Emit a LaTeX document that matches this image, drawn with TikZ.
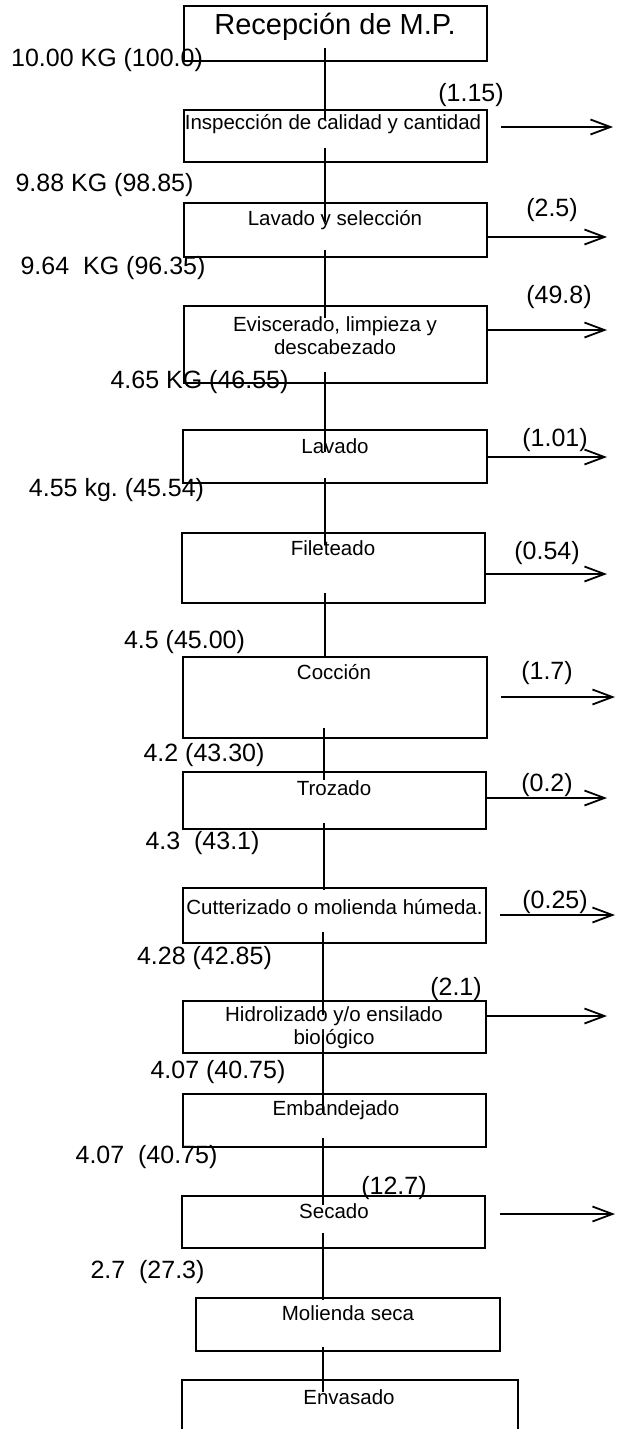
\documentclass[tikz,border=0pt]{standalone}
\usepackage{fontspec}
\setmainfont{Liberation Sans}
\usetikzlibrary{arrows.meta}
\frenchspacing
\tikzset{
  box/.style={draw, line width=1.8pt, inner sep=0pt, outer sep=0pt},
  boxtext/.style={font=\fontsize{20.5}{23}\selectfont, align=center, inner sep=0pt},
  titletext/.style={font=\fontsize{29}{32}\selectfont, inner sep=0pt},
  qty/.style={font=\fontsize{25}{28}\selectfont, inner sep=0pt},
  flow/.style={line width=1.5pt},
  waste/.style={line width=2.2pt, -{Straight Barb[length=20pt, width=15pt, line width=1.8pt]}}
}
\begin{document}
\begin{tikzpicture}[x=1pt,y=-1pt]
\useasboundingbox (0,0) rectangle (616,1429);
% boxes
\node[box, minimum width=303pt, minimum height=55pt] (b1) at (335.5,33.5) {};
\node[box, minimum width=303pt, minimum height=52pt] (b2) at (335.5,136) {};
\node[box, minimum width=303pt, minimum height=54pt] (b3) at (335.5,230) {};
\node[box, minimum width=303pt, minimum height=77pt] (b4) at (335.5,344.5) {};
\node[box, minimum width=304pt, minimum height=53pt] (b5) at (335,456.5) {};
\node[box, minimum width=303pt, minimum height=70pt] (b6) at (333.5,568) {};
\node[box, minimum width=304pt, minimum height=81pt] (b7) at (335,697.5) {};
\node[box, minimum width=303pt, minimum height=57pt] (b8) at (334.5,800.5) {};
\node[box, minimum width=303pt, minimum height=55pt] (b9) at (334.5,915.5) {};
\node[box, minimum width=303pt, minimum height=52pt] (b10) at (334.5,1027) {};
\node[box, minimum width=303pt, minimum height=53pt] (b11) at (334.5,1120.5) {};
\node[box, minimum width=303pt, minimum height=52pt] (b12) at (333.5,1222) {};
\node[box, minimum width=304pt, minimum height=53pt] (b13) at (348,1324.5) {};
\node[box, minimum width=336pt, minimum height=70pt] (b14) at (350,1415) {};
% box texts
\node[titletext] (t1) at (335,27) {Recepción de M.P.};
\node[boxtext] (t2) at (333,124) {Inspección de calidad y cantidad};
\node[boxtext] (t3) at (335,220) {Lavado y selección};
\node[boxtext] (t4) at (335,336) {Eviscerado, limpieza y\\descabezado};
\node[boxtext] (t5) at (335,446) {Lavado};
\node[boxtext] (t6) at (333,548) {Fileteado};
\node[boxtext] (t7) at (334,672) {Cocción};
\node[boxtext] (t8) at (334,788) {Trozado};
\node[boxtext] (t9) at (334.5,907) {Cutterizado o molienda húmeda.};
\node[boxtext] (t10) at (334,1028) {Hidrolizado y/o ensilado\\biológico};
\node[boxtext] (t11) at (336,1110) {Embandejado};
\node[boxtext] (t12) at (334,1211) {Secado};
\node[boxtext] (t13) at (348,1313) {Molienda seca};
\node[boxtext] (t14) at (349,1397) {Envasado};
% left quantities
\node[qty] (q1) at (107,60) {10.00 KG (100.0)};
\node[qty] (q2) at (104.5,185) {9.88 KG (98.85)};
\node[qty] (q3) at (113,268) {9.64\ \ KG (96.35)};
\node[qty] (q4) at (199.5,382) {4.65 KG (46.55)};
\node[qty] (q5) at (116.5,490) {4.55 kg. (45.54)};
\node[qty] (q6) at (184.5,642) {4.5 (45.00)};
\node[qty] (q7) at (204,755) {4.2 (43.30)};
\node[qty] (q8) at (202.5,843) {4.3\ \ (43.1)};
\node[qty] (q9) at (204.5,958) {4.28 (42.85)};
\node[qty] (q10) at (218,1072) {4.07 (40.75)};
\node[qty] (q11) at (146.5,1157) {4.07\ \ (40.75)};
\node[qty] (q12) at (147.5,1272) {2.7\ \ (27.3)};
% right losses
\node[qty] (r2) at (471,95) {(1.15)};
\node[qty] (r3) at (552,210) {(2.5)};
\node[qty] (r4) at (559,297) {(49.8)};
\node[qty] (r5) at (555,440) {(1.01)};
\node[qty] (r6) at (547,553) {(0.54)};
\node[qty] (r7) at (547,673) {(1.7)};
\node[qty] (r8) at (547,785) {(0.2)};
\node[qty] (r9) at (555,902) {(0.25)};
\node[qty] (r10) at (456,989) {(2.1)};
\node[qty] (r12) at (394,1188) {(12.7)};
% vertical flow line end points
\coordinate (s1) at (325,48);   \coordinate (e1) at (325,120);
\coordinate (s2) at (325,148);  \coordinate (e2) at (325,222);
\coordinate (s3) at (325,250);  \coordinate (e3) at (325,318);
\coordinate (s4) at (325,372);  \coordinate (e4) at (325,452);
\coordinate (s5) at (325,478);  \coordinate (e5) at (325,545);
\coordinate (s6) at (325,593);  \coordinate (e6) at (325,658);
\coordinate (s7) at (324,728);  \coordinate (e7) at (324,780);
\coordinate (s8) at (324,823);  \coordinate (e8) at (324,890);
\coordinate (s9) at (323,932);  \coordinate (e9) at (323,1015);
\coordinate (s10) at (323,1035); \coordinate (e10) at (323,1113);
\coordinate (s11) at (323,1138); \coordinate (e11) at (323,1205);
\coordinate (s12) at (323,1233); \coordinate (e12) at (323,1300);
\coordinate (s13) at (323,1347); \coordinate (e13) at (323,1392);
\foreach \i in {1,...,13} { \draw[flow] (s\i) -- (e\i); }
% waste arrows
\coordinate (w2) at (613,127);
\coordinate (w3) at (607,237);
\coordinate (w4) at (607,330);
\coordinate (w5) at (607,457);
\coordinate (w6) at (607,574);
\coordinate (w7) at (615,697);
\coordinate (w8) at (607,798);
\coordinate (w9) at (615,915);
\coordinate (w10) at (607,1016);
\coordinate (w12) at (615,1214);
\draw[waste] ([xshift=14pt]b2.east |- w2) -- (w2);
\draw[waste] (b3.east |- w3) -- (w3);
\draw[waste] (b4.east |- w4) -- (w4);
\draw[waste] (b5.east |- w5) -- (w5);
\draw[waste] (b6.east |- w6) -- (w6);
\draw[waste] ([xshift=14pt]b7.east |- w7) -- (w7);
\draw[waste] (b8.east |- w8) -- (w8);
\draw[waste] ([xshift=14pt]b9.east |- w9) -- (w9);
\draw[waste] (b10.east |- w10) -- (w10);
\draw[waste] ([xshift=15pt]b12.east |- w12) -- (w12);
\end{tikzpicture}
\end{document}
